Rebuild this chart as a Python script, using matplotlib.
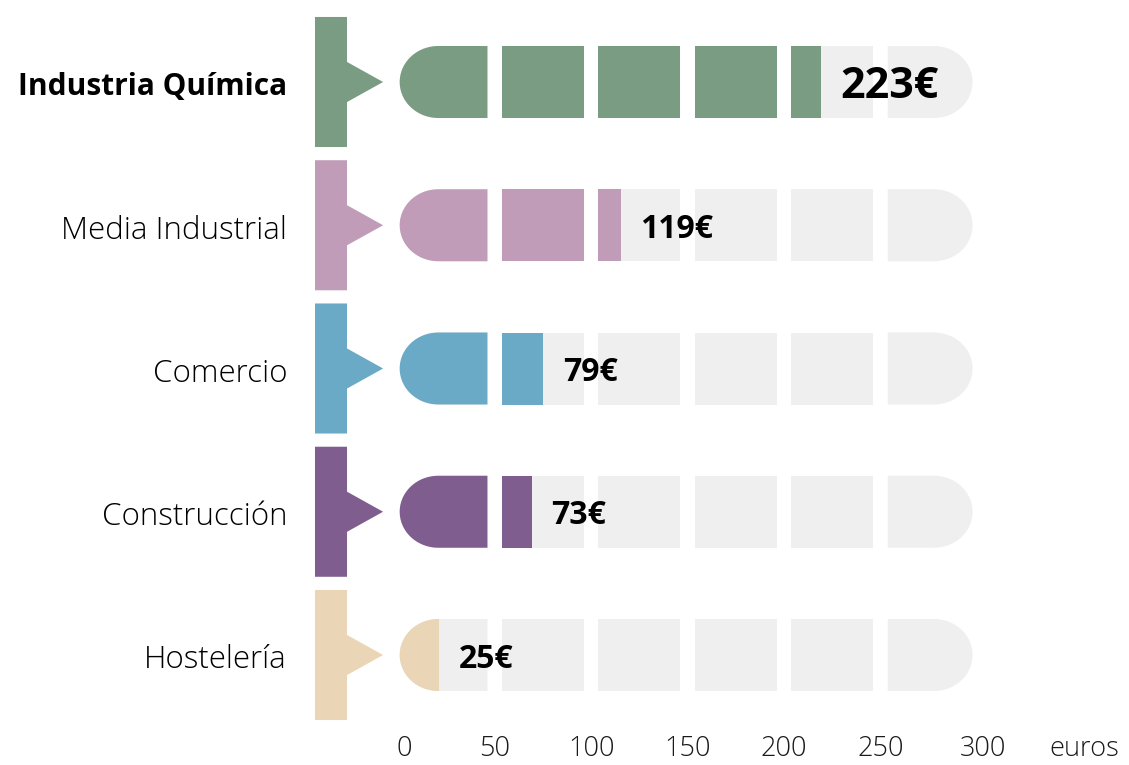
import matplotlib.pyplot as plt
import numpy as np
from matplotlib.patches import Polygon, Rectangle

# data
sectores = ['Industria Química', 'Media Industrial', 'Comercio', 'Construcción', 'Hostelería']
valores = [223, 119, 79, 73, 25]
colores = ['#7a9c82', '#c09cb9', '#6aaac6', '#7f5d8e', '#ead6b6']
ticks = [0, 50, 100, 150, 200, 250, 300]

plt.rcParams['font.family'] = ['Open Sans', 'DejaVu Sans']

W, H = 1129, 765
x0px, sx = 391, 1.929      # pixel of 0 euros, pixels per euro
y0px, sy = 82, 143.25      # pixel of first row centre, pixels per row

fig = plt.figure(figsize=(W/100, H/100), dpi=100)
ax = fig.add_axes([0, 0, 1, 1])
ax.set_xlim(-x0px/sx, (W-x0px)/sx)
ax.set_ylim((H-y0px)/sy, -y0px/sy)
ax.axis('off')

hh = 36/sy       # half bar height (rows)
rx = 20.0        # round end width (euros)
gap = 7.5
gris = '#efefef'

def segmento(a, b, y, izq=False, der=False):
    pts = []
    if izq:
        for ang in np.linspace(np.pi/2, 3*np.pi/2, 40):
            pts.append((a+rx + rx*np.cos(ang), y - hh*np.sin(ang)))
    else:
        pts += [(a, y-hh), (a, y+hh)]
    if der:
        for ang in np.linspace(-np.pi/2, np.pi/2, 40):
            pts.append((b-rx + rx*np.cos(ang), y - hh*np.sin(ang)))
    else:
        pts += [(b, y+hh), (b, y-hh)]
    return pts

segs = []
for i in range(6):
    a = 4.5 if i == 0 else 50*i + gap
    b = 50*(i+1) + (1.5 if i == 5 else 0)
    segs.append((a, b, i == 0, i == 5))

for r, (nom, val, col) in enumerate(zip(sectores, valores, colores)):
    y = r
    # pestaña con flecha
    tab = [(-39.4, y-0.454), (-22.8, y-0.454), (-22.8, y-0.14), (-4.1, y),
           (-22.8, y+0.14), (-22.8, y+0.454), (-39.4, y+0.454)]
    ax.add_patch(Polygon(tab, closed=True, fc=col, ec='none'))
    clip = Rectangle((0, y-0.5), val, 1, transform=ax.transData)
    for a, b, iz, de in segs:
        pts = segmento(a, b, y, iz, de)
        ax.add_patch(Polygon(pts, closed=True, fc=gris, ec='none'))
        p = Polygon(pts, closed=True, fc=col, ec='none')
        ax.add_patch(p)
        p.set_clip_path(clip)
    negrita = (r == 0)
    ax.text(-53.9, y + 0.01, nom, ha='right', va='center_baseline',
            fontsize=21.5 if negrita else 22.5,
            fontweight='bold' if negrita else 'light', color='black')
    ax.text(val + 10, y, f'{val}€', ha='left', va='center_baseline',
            fontsize=31 if negrita else 23, fontweight='bold', color='black')

ty = (745 - y0px)/sy
for t in ticks:
    ax.text(t + gap/2 + (3 if t in (0, 300) else 0), ty, str(t), ha='center',
            va='center_baseline', fontsize=19.5, fontweight='light', color='#1a1a1a')
ax.text(359.5, ty, 'euros', ha='center', va='center_baseline', fontsize=19.5,
        fontweight='light', color='#1a1a1a')

fig.savefig('out.png', dpi=100)
